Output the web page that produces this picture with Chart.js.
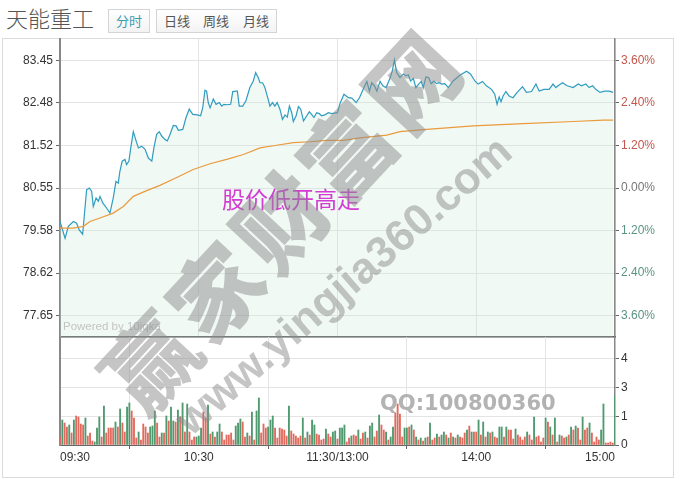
<!DOCTYPE html>
<html>
<head>
<meta charset="utf-8">
<script src="https://cdn.jsdelivr.net/npm/chart.js@4.4.1/dist/chart.umd.min.js"></script>
<style>
  body { margin: 0; background: #fff; width: 679px; height: 479px; overflow: hidden; position: relative; font-family: Arial, "Liberation Sans", sans-serif; }
  .title { position: absolute; left: 6px; top: 6px; font: 300 22px/22px "Noto Sans CJK SC"; color: #555; }
  .btn { position: absolute; top: 9px; height: 22px; border: 1px solid #d4d4d4; background: linear-gradient(#fff, #f3f3f3); font: 13px/22px "Noto Sans CJK SC"; color: #555; text-align: center; box-sizing: content-box; }
  .frame { position: absolute; left: 2px; top: 38px; width: 670px; height: 438px; border: 1px solid #dcdcdc; }
  canvas { position: absolute; left: 0; }
  #price { top: 0; }
  #vol { top: 337px; }
  .note { position: absolute; left: 222px; top: 187px; font: 23px/23px "Noto Sans CJK SC"; color: #d23cd2; }
  .powered { position: absolute; left: 63px; top: 320px; font: 11.5px/13px Arial, "Liberation Sans"; color: #c4c4c4; }
  .wm { position: absolute; white-space: nowrap; color: rgba(140,140,140,0.5); font-weight: 900; }
  .wm1 { left: 280px; top: 217px; font-size: 90px; line-height: 90px; letter-spacing: 6px; font-family: "Noto Sans CJK SC"; transform: translate(-50%,-50%) rotate(-47deg); }
  .wm2 { left: 343px; top: 285px; font-size: 44px; line-height: 44px; font-family: Arial, "Liberation Sans"; font-weight: bold; transform: translate(-50%,-50%) rotate(-41deg); }
  .qq { position: absolute; left: 380px; top: 392px; font: bold 21px/22px "DejaVu Sans"; color: rgba(160,160,160,0.8); }
</style>
</head>
<body>
<div class="title">天能重工</div>
<div class="btn" style="left:108px;width:40px;color:#3a9cb4;">分时</div>
<div class="btn" style="left:156px;width:40px;">日线</div>
<div class="btn" style="left:196px;width:40px;border-left:none;">周线</div>
<div class="btn" style="left:236px;width:40px;border-left:none;">月线</div>
<div class="frame"></div>
<canvas id="price" width="679" height="340"></canvas>
<canvas id="vol" width="679" height="142"></canvas>
<div class="note">股价低开高走</div>
<div class="powered">Powered by 10jqka</div>
<div class="wm wm1">赢家财富网</div>
<div class="wm wm2">www.yingjia360.com</div>
<div class="qq">QQ:100800360</div>
<script>
// previous close, used for the percentage axis
const prevClose = 80.55;

const timeTicks = [0, 60, 120, 180, 240];
const timeLabels = ['09:30', '10:30', '11:30/13:00', '14:00', '15:00'];

const priceTicks = [77.65, 78.62, 79.58, 80.55, 81.52, 82.48, 83.45];
const pctLabels = ['3.60%', '2.40%', '1.20%', '0.00%', '1.20%', '2.40%', '3.60%'];

// minutes since 09:30 (lunch break removed)
const priceTime = [
  0, 2.2, 3.6, 5.8, 7.2, 8.3, 9.8, 11.5, 12.7, 13.7,
  14.4, 15.6, 16.6, 17.3, 18.5, 20.2, 21.6, 23.0, 24.2, 25.2,
  25.9, 26.9, 28.1, 28.8, 29.8, 30.6, 31.7, 32.9, 33.9, 35.3,
  36.8, 38.2, 39.7, 40.6, 41.8, 42.9, 44.0, 45.4, 46.4, 47.6,
  49.0, 50.2, 51.2, 53.1, 54.5, 55.9, 57.4, 59.4, 60.8, 61.7,
  62.7, 63.4, 64.1, 64.9, 66.3, 67.5, 68.9, 69.9, 70.9, 72.1,
  73.8, 74.7, 76.1, 76.7, 77.5, 79.0, 80.4, 82.1, 83.6, 84.6,
  85.7, 86.5, 87.6, 88.6, 89.6, 90.8, 91.9, 92.9, 93.9, 95.1,
  96.2, 97.3, 98.3, 99.2, 100.2, 100.9, 102.1, 103.1, 104.1, 105.3,
  106.7, 107.8, 108.8, 109.8, 111.0, 112.1, 113.1, 114.5, 116.0, 117.4,
  120.0,
  121.1, 122.8, 124.7, 126.2, 128.1, 129.5, 130.9, 132.7, 133.8, 134.8,
  136.0, 137.0, 138.4, 139.6, 141.0, 142.7, 143.7, 144.6, 145.6, 147.0,
  148.5, 149.6, 150.6, 151.6, 152.8, 153.9, 155.1, 156.2, 157.1, 158.2,
  159.4, 160.5, 161.7, 162.8, 163.9, 165.1, 166.4, 167.9, 170.0, 172.6,
  175.8, 177.5, 179.4, 180.8, 182.7, 184.4, 186.6, 188.0, 189.0, 189.9,
  190.7, 191.6, 192.8, 194.2, 195.9, 197.7, 200.0, 201.7, 203.9, 205.8,
  207.2, 209.2, 211.5, 213.2, 214.4, 215.4, 217.3, 219.3, 221.9, 224.1,
  225.5, 227.4, 228.8, 230.3, 231.7, 233.5, 235.6, 237.5, 239.2
];
const priceValue = [
  79.79, 79.41, 79.68, 79.79, 79.75, 79.60, 79.50, 80.51, 80.55, 80.47,
  80.13, 80.32, 80.25, 80.36, 80.21, 80.09, 79.98, 80.32, 80.70, 80.66,
  80.93, 81.16, 81.20, 81.08, 81.16, 81.46, 81.83, 81.62, 81.46, 81.50,
  81.43, 81.23, 81.16, 81.46, 81.77, 81.83, 81.73, 81.65, 81.62, 81.77,
  81.97, 81.96, 81.86, 81.88, 82.15, 82.34, 82.22, 82.21, 82.19, 82.37,
  82.77, 82.75, 82.49, 82.37, 82.57, 82.45, 82.49, 82.41, 82.45, 82.44,
  82.45, 82.74, 82.75, 82.75, 82.41, 82.41, 82.53, 82.83, 82.98, 83.17,
  83.06, 82.94, 82.94, 82.83, 82.64, 82.41, 82.49, 82.41, 82.49, 82.34,
  82.11, 82.21, 82.16, 82.41, 82.26, 82.06, 82.19, 82.40, 82.34, 82.07,
  82.19, 82.28, 82.22, 82.15, 82.26, 82.24, 82.19, 82.21, 82.26, 82.24,
  82.26,
  82.47, 82.68, 82.60, 82.59, 82.49, 82.60, 82.77, 82.97, 82.75, 82.94,
  82.87, 82.75, 82.97, 82.87, 82.83, 83.04, 83.21, 83.46, 83.17, 83.06,
  83.14, 83.10, 83.12, 82.98, 83.04, 82.83, 82.91, 82.97, 82.83, 83.07,
  83.06, 82.92, 82.98, 82.92, 82.94, 82.91, 82.92, 82.83, 82.98, 83.10,
  83.20, 83.14, 82.98, 82.91, 82.97, 82.87, 82.79, 82.68, 82.45, 82.62,
  82.51, 82.64, 82.74, 82.64, 82.60, 82.72, 82.85, 82.72, 82.74, 82.91,
  82.75, 82.79, 82.79, 82.91, 82.83, 82.87, 82.94, 82.87, 82.83, 82.91,
  82.87, 82.91, 82.83, 82.87, 82.79, 82.72, 82.75, 82.75, 82.72
];

const avgTime = [0, 5.8, 10.1, 13.0, 17.3, 23.0, 27.4, 31.7, 37.5, 43.2, 50.5, 57.6, 64.9, 72.1, 79.3,
  86.5, 93.7, 100.9, 108.1, 115.3, 122.5, 129.7, 141.3, 147.0, 158.6, 178.7, 200.3, 222.0, 235.0, 239.2];
const avgValue = [79.64, 79.64, 79.68, 79.79, 79.87, 79.98, 80.13, 80.36, 80.49, 80.61, 80.79, 80.97, 81.10, 81.20, 81.31,
  81.46, 81.52, 81.58, 81.60, 81.63, 81.63, 81.69, 81.75, 81.83, 81.88, 81.96, 82.01, 82.06, 82.09, 82.09];

// volume per minute, 0 .. 240
const volume = [
  0.40,1.25,1.10,0.90,1.00,0.60,1.25,1.45,1.40,1.05, 1.00,1.35,0.45,0.60,0.20,0.15,0.85,1.40,0.40,1.95,
  0.60,0.85,0.85,0.85,1.15,0.90,1.80,1.10,0.65,1.90, 2.10,1.70,1.35,0.35,0.65,0.25,1.05,0.90,0.60,0.90,
  0.95,1.70,1.10,0.40,0.60,0.60,1.45,1.20,1.90,1.20, 1.15,1.75,1.40,2.10,0.65,2.05,0.65,0.25,0.40,0.40,
  0.45,
  0.85,1.65,1.35,2.00,0.55,0.65,0.40,0.65,1.05,0.65, 0.25,0.50,0.50,0.60,0.25,0.95,1.10,1.30,1.15,0.40,
  0.60,0.45,1.65,0.25,1.70,2.35,0.60,1.05,0.85,0.90, 1.25,1.45,0.85,0.35,0.85,0.80,0.75,0.45,1.95,0.70,
  0.55,0.45,0.35,0.45,1.35,0.35,0.65,0.50,1.25,1.00, 0.55,0.50,0.25,0.30,0.80,0.55,0.40,0.65,0.70,0.30,
  0.85,
  0.85,1.00,0.15,0.35,0.45,0.50,0.45,0.75,0.30,0.60, 0.65,0.35,0.95,1.10,0.40,0.70,1.50,1.00,0.75,0.65,
  0.25,0.40,0.90,1.60,2.05,1.55,0.40,0.85,0.85,0.90, 1.00,0.75,0.40,0.25,0.35,0.20,0.35,0.40,1.10,0.25,
  0.35,0.55,0.40,0.50,0.65,0.50,0.35,0.60,0.40,0.35, 0.50,0.40,0.35,0.60,0.75,0.95,0.65,0.65,0.65,1.25,
  0.50,
  1.15,0.40,0.65,0.60,0.65,0.40,0.35,0.90,0.90,0.40, 0.90,0.75,0.75,0.30,0.80,0.50,0.40,0.25,0.40,0.65,
  0.50,0.25,1.40,0.40,0.45,0.15,0.35,1.35,1.15,0.90, 0.50,1.35,0.15,0.50,0.45,0.35,0.40,0.50,0.90,0.75,
  0.95,0.85,0.25,1.40,0.75,0.85,1.10,0.60,0.15,0.40, 0.25,0.75,2.05,0.10,0.10,0.15,0.10,2.45
];
// r = up minute, g = down minute
const volDir = (
  'rgrrgrgrrr' + 'rgrrrgggrg' + 'rrrrgrgrrg' + 'grrrgrrrrg' + 'ggrrgrgrgg' + 'rgrgrgrrrg' + 'g' +
  'grrgrgrggr' + 'rrrrrgggrr' + 'grgrggrrrg' + 'ggrrrrrrgr' + 'rrrrgrgrgg' + 'rrrrgrrggr' + 'g' +
  'ggrrgrrgrr' + 'grggrrgrrg' + 'rggrrrrggr' + 'grgrgrgrgr' + 'rgrggrgrgr' + 'grrrgrgrrg' + 'r' +
  'grgrgrrggr' + 'grrrgrrrrg' + 'rrgrrrrgrg' + 'rgrgrrgrgr' + 'grrgrrgrrr' + 'rggrrrrg'
).split('');

const volTicks = [0, 1.435, 2.87, 4.305];
const volTickLabels = ['0', '1', '3', '4'];

const UP = '#e06a5e', DOWN = '#4f9a6e';
const FONT = { family: 'Arial, "Liberation Sans", sans-serif', size: 12 };
const GRID = '#e4e4e4';

function pctColor(ctx) {
  const v = ctx.tick ? ctx.tick.value : prevClose;
  if (Math.abs(v - prevClose) < 0.01) return '#777';
  return v > prevClose ? '#c4574b' : '#5b9484';
}

// fixed axis size, no extra label padding
function fixWidth(w) {
  return s => { s.width = w; s.paddingTop = 0; s.paddingBottom = 0; };
}
function fixHeight(h) {
  return s => { s.height = h; s.paddingLeft = 0; s.paddingRight = 0; };
}

new Chart(document.getElementById('price'), {
  type: 'line',
  data: {
    datasets: [{
      data: priceTime.map((t, i) => ({ x: t, y: priceValue[i] })),
      borderColor: '#2f9cc0',
      borderWidth: 1.2,
      pointRadius: 0,
      fill: 'start',
      backgroundColor: 'rgba(200,235,215,0.28)',
      order: 2
    }, {
      data: avgTime.map((t, i) => ({ x: t, y: avgValue[i] })),
      borderColor: '#eb9a3c',
      borderWidth: 1.2,
      pointRadius: 0,
      fill: false,
      order: 1
    }]
  },
  options: {
    responsive: false,
    animation: false,
    layout: { padding: { top: 39, bottom: 3, left: 0, right: 0 } },
    plugins: { legend: { display: false }, tooltip: { enabled: false } },
    scales: {
      x: {
        type: 'linear', min: 0, max: 240,
        afterBuildTicks: s => { s.ticks = timeTicks.map(v => ({ value: v })); },
        ticks: { display: false },
        grid: { color: GRID, drawTicks: false },
        border: { color: '#555', width: 1.5 },
        afterFit: fixHeight(0)
      },
      y: {
        position: 'left',
        min: prevClose * 0.958, max: prevClose * 1.042,
        afterBuildTicks: s => { s.ticks = priceTicks.map(v => ({ value: v })); },
        ticks: { callback: v => v.toFixed(2), color: '#333', font: FONT, padding: 3 },
        grid: { color: GRID, tickColor: '#666', tickLength: 4 },
        border: { color: '#888', width: 2 },
        afterFit: fixWidth(60)
      },
      y1: {
        position: 'right',
        min: prevClose * 0.958, max: prevClose * 1.042,
        afterBuildTicks: s => { s.ticks = priceTicks.map(v => ({ value: v })); },
        ticks: { callback: (v, i) => pctLabels[i], color: pctColor, font: FONT, padding: 2 },
        grid: { drawOnChartArea: false, tickColor: '#666', tickLength: 4 },
        border: { color: '#888', width: 1.5 },
        afterFit: fixWidth(64)
      }
    }
  }
});

new Chart(document.getElementById('vol'), {
  type: 'bar',
  data: {
    datasets: [{
      data: volume.map((v, i) => ({ x: i, y: v })),
      backgroundColor: volDir.map(d => d === 'r' ? UP : DOWN),
      barThickness: 1.2,
      yAxisID: 'y'
    }]
  },
  options: {
    responsive: false,
    animation: false,
    layout: { padding: { top: 0, bottom: 4, left: 0, right: 0 } },
    plugins: { legend: { display: false }, tooltip: { enabled: false } },
    scales: {
      x: {
        type: 'linear', min: 0, max: 240, offset: false,
        afterBuildTicks: s => { s.ticks = timeTicks.map(v => ({ value: v })); },
        ticks: { callback: (v, i) => timeLabels[i], align: 'inner', maxRotation: 0, autoSkip: false, color: '#333', font: FONT, padding: 1 },
        grid: { color: GRID, tickColor: '#666', tickLength: 4 },
        border: { color: '#666', width: 1 },
        afterFit: fixHeight(30)
      },
      yl: {
        position: 'left',
        ticks: { display: false },
        grid: { drawOnChartArea: false, drawTicks: false },
        border: { color: '#888', width: 2 },
        afterFit: fixWidth(60)
      },
      y: {
        position: 'right', min: 0, max: 5.4,
        afterBuildTicks: s => { s.ticks = volTicks.map(v => ({ value: v })); },
        ticks: { callback: (v, i) => volTickLabels[i], color: '#333', font: FONT, padding: 2 },
        grid: { color: GRID, tickColor: '#666', tickLength: 4 },
        border: { color: '#888', width: 1.5 },
        afterFit: fixWidth(64)
      }
    }
  }
});
</script>
</body>
</html>
